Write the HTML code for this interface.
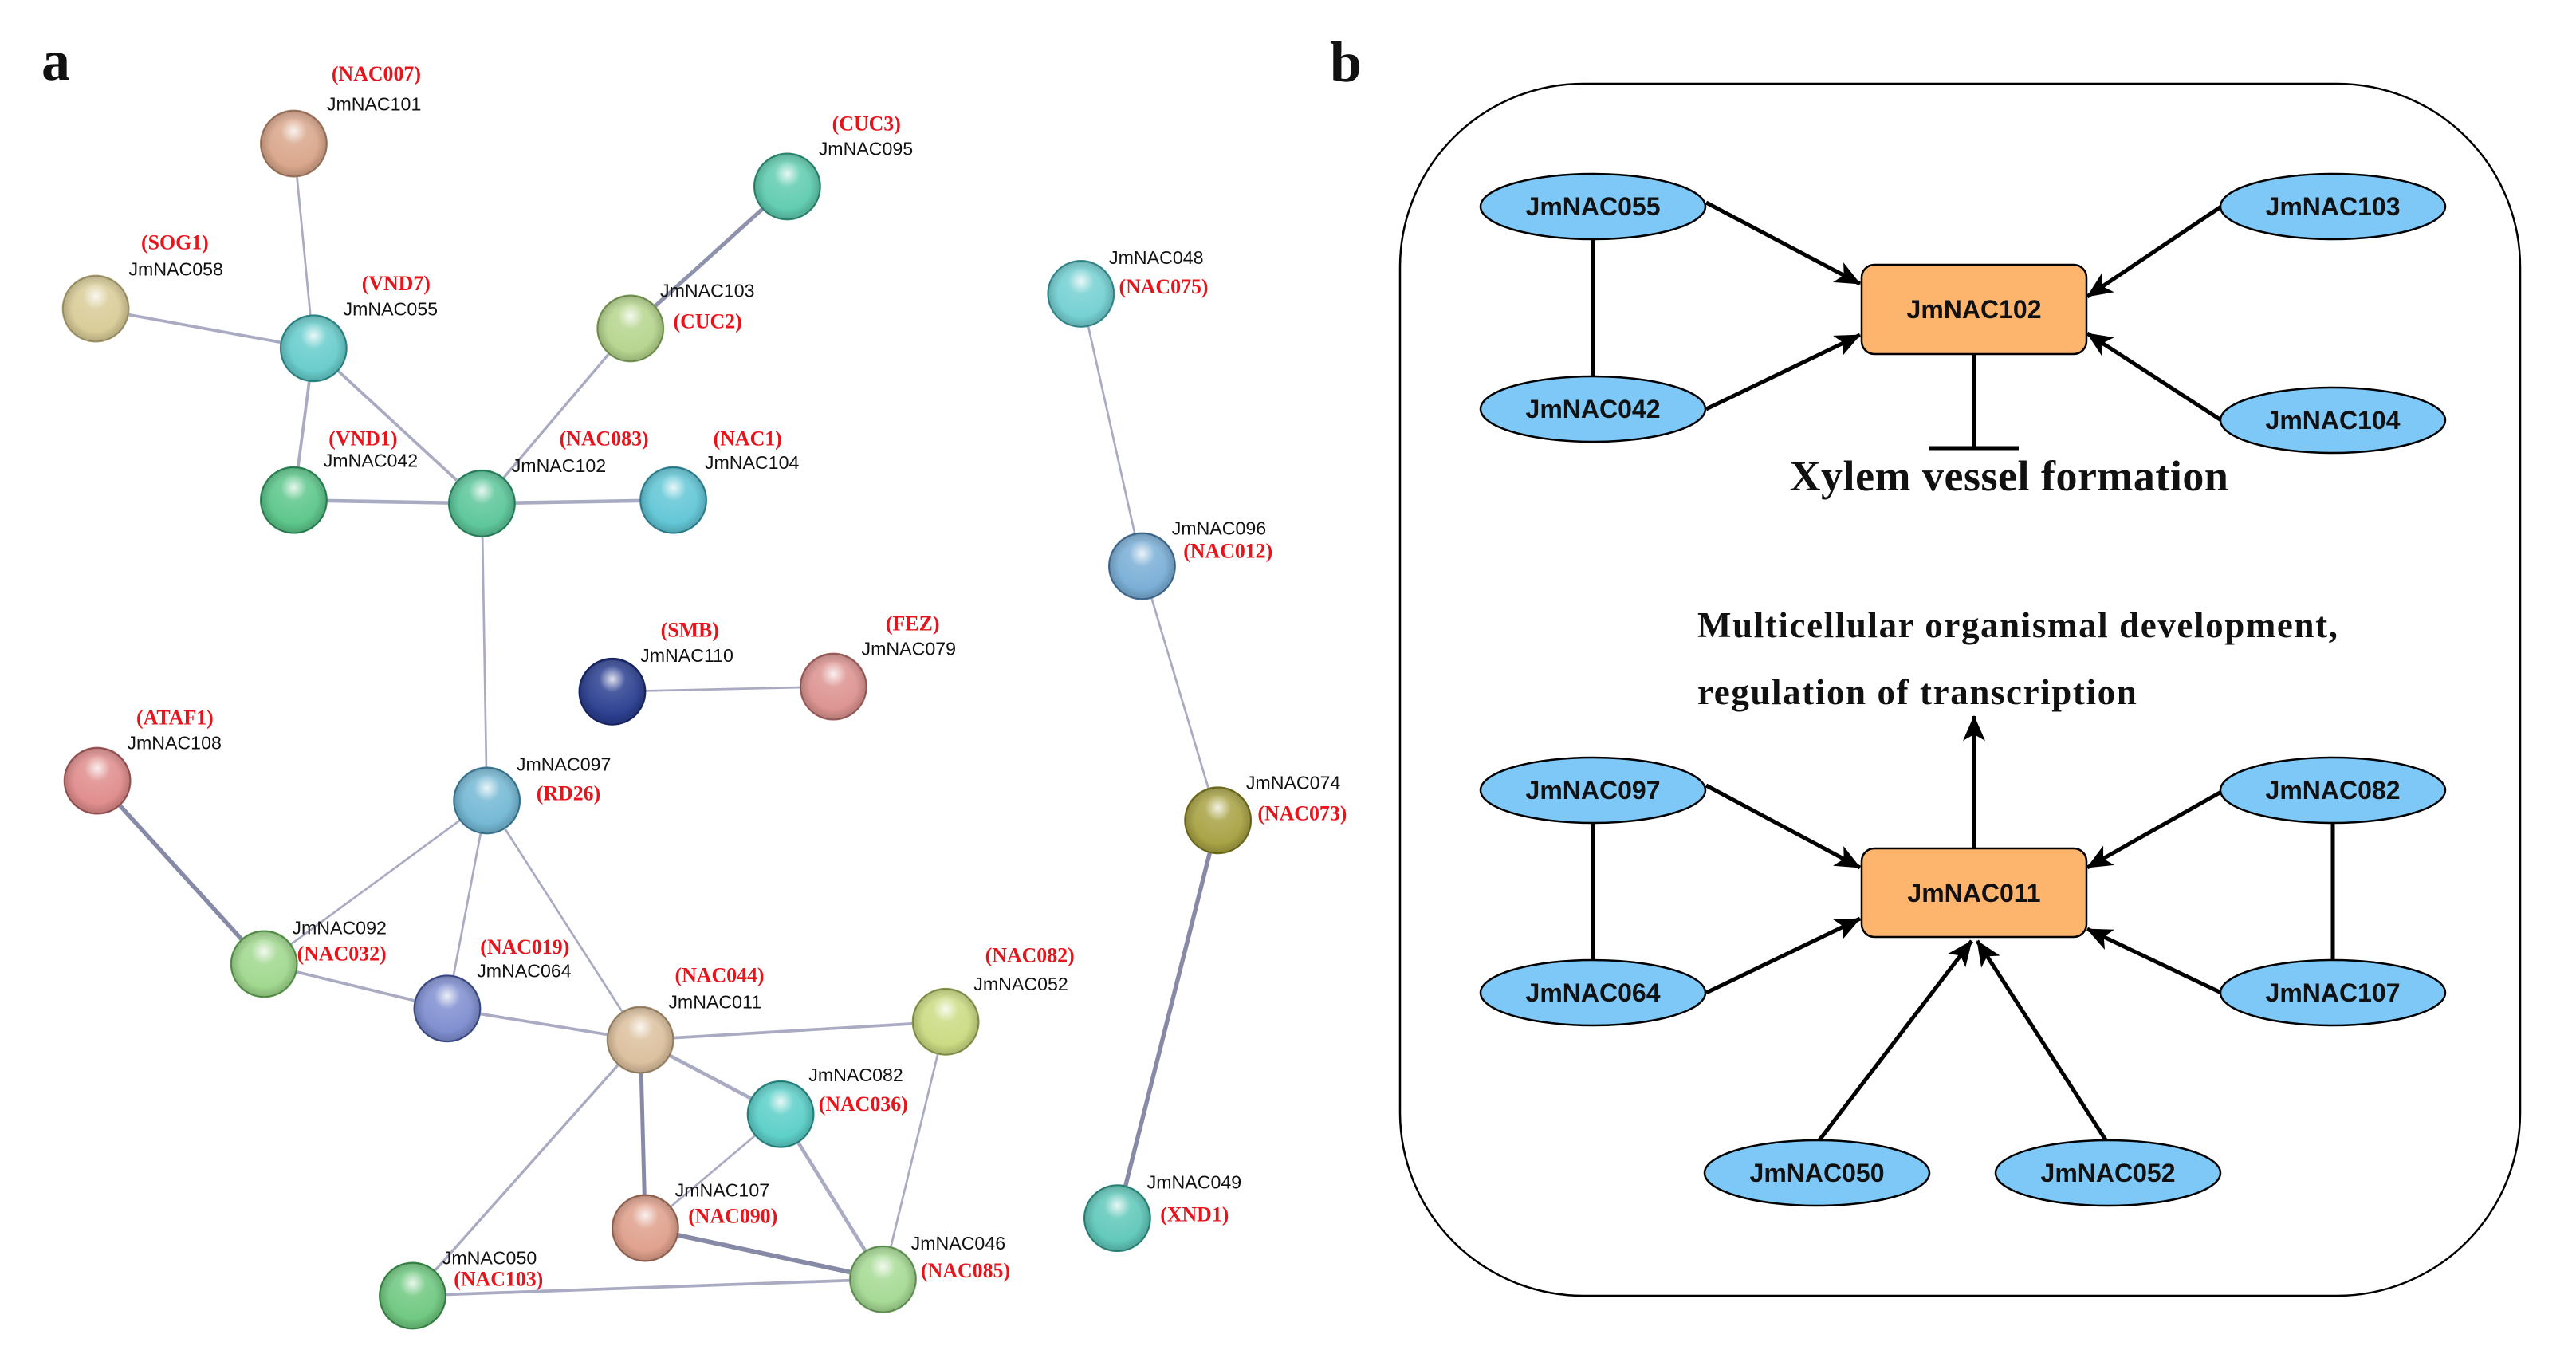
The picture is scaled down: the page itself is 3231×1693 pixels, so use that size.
<!DOCTYPE html>
<html><head><meta charset="utf-8"><style>
html,body{margin:0;padding:0;background:#fff;}
svg{display:block;}
.n{font-family:"Liberation Sans",sans-serif;font-size:11.2px;fill:#111;}
.r{font-family:"Liberation Serif",serif;font-size:12.5px;font-weight:bold;fill:#e8141c;}
.e{font-family:"Liberation Sans",sans-serif;font-size:32px;font-weight:bold;fill:#111;}
.t{font-family:"Liberation Serif",serif;font-weight:bold;fill:#111;}
</style></head><body>
<svg width="3231" height="1693" viewBox="0 0 3231 1693" xmlns="http://www.w3.org/2000/svg">
<defs>
<radialGradient id="sh" cx="0.5" cy="0.3" r="0.6"><stop offset="0" stop-color="#fff" stop-opacity="0.85"/><stop offset="0.35" stop-color="#fff" stop-opacity="0.15"/><stop offset="1" stop-color="#fff" stop-opacity="0"/></radialGradient>
<radialGradient id="dk" cx="0.5" cy="0.5" r="0.5"><stop offset="0.7" stop-color="#000" stop-opacity="0"/><stop offset="1" stop-color="#000" stop-opacity="0.18"/></radialGradient>
<marker id="ar" viewBox="0 0 32 28" refX="31" refY="14" markerWidth="32" markerHeight="28" markerUnits="userSpaceOnUse" orient="auto"><path d="M0,0 L32,14 L0,28 L8,14 Z" fill="#000"/></marker>
</defs>
<text x="52" y="100" class="t" font-size="72">a</text>
<text x="1668" y="102" class="t" font-size="72">b</text>
<g transform="scale(2.07)">
<g stroke="#a9abc2" stroke-width="1.3" fill="none">
<line x1="178" y1="87" x2="190" y2="211"/>
<line x1="58" y1="187" x2="190" y2="211" stroke-width="1.8"/>
<line x1="190" y1="211" x2="178" y2="303" stroke-width="1.8"/>
<line x1="190" y1="211" x2="292" y2="305" stroke-width="1.8"/>
<line x1="178" y1="303" x2="292" y2="305" stroke-width="2.2"/>
<line x1="292" y1="305" x2="408" y2="303" stroke-width="2.2"/>
<line x1="292" y1="305" x2="382" y2="199" stroke-width="1.6"/>
<line x1="382" y1="199" x2="477" y2="113" stroke-width="2.4" stroke="#8e92ac"/>
<line x1="292" y1="305" x2="295" y2="485"/>
<line x1="371" y1="419" x2="505" y2="416"/>
<line x1="59" y1="473" x2="160" y2="584" stroke-width="2.6" stroke="#868aa6"/>
<line x1="160" y1="584" x2="271" y2="611" stroke-width="1.8"/>
<line x1="295" y1="485" x2="160" y2="584"/>
<line x1="295" y1="485" x2="271" y2="611"/>
<line x1="295" y1="485" x2="388" y2="630"/>
<line x1="271" y1="611" x2="388" y2="630" stroke-width="1.8"/>
<line x1="388" y1="630" x2="573" y2="619" stroke-width="1.8"/>
<line x1="388" y1="630" x2="473" y2="675" stroke-width="2.2"/>
<line x1="388" y1="630" x2="391" y2="744" stroke-width="2.4" stroke="#868aa6"/>
<line x1="388" y1="630" x2="250" y2="785" stroke-width="1.6"/>
<line x1="473" y1="675" x2="391" y2="744"/>
<line x1="473" y1="675" x2="535" y2="775" stroke-width="2.2"/>
<line x1="391" y1="744" x2="535" y2="775" stroke-width="2.8" stroke="#868aa6"/>
<line x1="573" y1="619" x2="535" y2="775"/>
<line x1="250" y1="785" x2="535" y2="775" stroke-width="1.8"/>
<line x1="655" y1="178" x2="692" y2="343"/>
<line x1="692" y1="343" x2="738" y2="497"/>
<line x1="738" y1="497" x2="677" y2="738" stroke-width="2.6" stroke="#868aa6"/>
</g>
<g>
<g transform="translate(178,87)"><circle r="20" fill="#d9a68b" stroke="#a27a62"/><circle r="20" fill="url(#dk)"/><circle r="19" fill="url(#sh)"/></g>
<g transform="translate(58,187)"><circle r="20" fill="#d9cc98" stroke="#a89d70"/><circle r="20" fill="url(#dk)"/><circle r="19" fill="url(#sh)"/></g>
<g transform="translate(190,211)"><circle r="20" fill="#68cccc" stroke="#2f8c8c"/><circle r="20" fill="url(#dk)"/><circle r="19" fill="url(#sh)"/></g>
<g transform="translate(477,113)"><circle r="20" fill="#60ccb0" stroke="#2e8c74"/><circle r="20" fill="url(#dk)"/><circle r="19" fill="url(#sh)"/></g>
<g transform="translate(382,199)"><circle r="20" fill="#b6d58e" stroke="#7a9a58"/><circle r="20" fill="url(#dk)"/><circle r="19" fill="url(#sh)"/></g>
<g transform="translate(178,303)"><circle r="20" fill="#5cc68a" stroke="#2d8856"/><circle r="20" fill="url(#dk)"/><circle r="19" fill="url(#sh)"/></g>
<g transform="translate(292,305)"><circle r="20" fill="#5cc69a" stroke="#2d8862"/><circle r="20" fill="url(#dk)"/><circle r="19" fill="url(#sh)"/></g>
<g transform="translate(408,303)"><circle r="20" fill="#62c6d6" stroke="#30889a"/><circle r="20" fill="url(#dk)"/><circle r="19" fill="url(#sh)"/></g>
<g transform="translate(655,178)"><circle r="20" fill="#74d0d2" stroke="#3a9096"/><circle r="20" fill="url(#dk)"/><circle r="19" fill="url(#sh)"/></g>
<g transform="translate(692,343)"><circle r="20" fill="#7aaed6" stroke="#466f96"/><circle r="20" fill="url(#dk)"/><circle r="19" fill="url(#sh)"/></g>
<g transform="translate(371,419)"><circle r="20" fill="#2b3f90" stroke="#1a2766"/><circle r="20" fill="url(#dk)"/><circle r="19" fill="url(#sh)"/></g>
<g transform="translate(505,416)"><circle r="20" fill="#dc9390" stroke="#a06260"/><circle r="20" fill="url(#dk)"/><circle r="19" fill="url(#sh)"/></g>
<g transform="translate(59,473)"><circle r="20" fill="#e08c8c" stroke="#a05858"/><circle r="20" fill="url(#dk)"/><circle r="19" fill="url(#sh)"/></g>
<g transform="translate(295,485)"><circle r="20" fill="#74b8d4" stroke="#3e7c98"/><circle r="20" fill="url(#dk)"/><circle r="19" fill="url(#sh)"/></g>
<g transform="translate(738,497)"><circle r="20" fill="#a8a244" stroke="#727020"/><circle r="20" fill="url(#dk)"/><circle r="19" fill="url(#sh)"/></g>
<g transform="translate(160,584)"><circle r="20" fill="#a0d88e" stroke="#5a9a4c"/><circle r="20" fill="url(#dk)"/><circle r="19" fill="url(#sh)"/></g>
<g transform="translate(271,611)"><circle r="20" fill="#7f8ed0" stroke="#3d4f8e"/><circle r="20" fill="url(#dk)"/><circle r="19" fill="url(#sh)"/></g>
<g transform="translate(388,630)"><circle r="20" fill="#dcc09e" stroke="#a08a6c"/><circle r="20" fill="url(#dk)"/><circle r="19" fill="url(#sh)"/></g>
<g transform="translate(573,619)"><circle r="20" fill="#cadb82" stroke="#8a9a52"/><circle r="20" fill="url(#dk)"/><circle r="19" fill="url(#sh)"/></g>
<g transform="translate(473,675)"><circle r="20" fill="#5ccfc8" stroke="#2a8a86"/><circle r="20" fill="url(#dk)"/><circle r="19" fill="url(#sh)"/></g>
<g transform="translate(391,744)"><circle r="20" fill="#dfa08c" stroke="#9a6a56"/><circle r="20" fill="url(#dk)"/><circle r="19" fill="url(#sh)"/></g>
<g transform="translate(250,785)"><circle r="20" fill="#6fc880" stroke="#3a8a48"/><circle r="20" fill="url(#dk)"/><circle r="19" fill="url(#sh)"/></g>
<g transform="translate(535,775)"><circle r="20" fill="#a6da94" stroke="#6a9c5a"/><circle r="20" fill="url(#dk)"/><circle r="19" fill="url(#sh)"/></g>
<g transform="translate(677,738)"><circle r="20" fill="#60c8ba" stroke="#2e8c80"/><circle r="20" fill="url(#dk)"/><circle r="19" fill="url(#sh)"/></g>
</g>
<g dominant-baseline="middle">
<text class="r" x="228" y="46" text-anchor="middle">(NAC007)</text><text class="n" x="198" y="64">JmNAC101</text>
<text class="r" x="106" y="148" text-anchor="middle">(SOG1)</text><text class="n" x="78" y="164">JmNAC058</text>
<text class="r" x="240" y="173" text-anchor="middle">(VND7)</text><text class="n" x="208" y="188">JmNAC055</text>
<text class="r" x="525" y="76" text-anchor="middle">(CUC3)</text><text class="n" x="496" y="91">JmNAC095</text>
<text class="n" x="400" y="177">JmNAC103</text><text class="r" x="408" y="196">(CUC2)</text>
<text class="r" x="220" y="267" text-anchor="middle">(VND1)</text><text class="n" x="196" y="280">JmNAC042</text>
<text class="r" x="366" y="267" text-anchor="middle">(NAC083)</text><text class="n" x="310" y="283">JmNAC102</text>
<text class="r" x="453" y="267" text-anchor="middle">(NAC1)</text><text class="n" x="427" y="281">JmNAC104</text>
<text class="n" x="672" y="157">JmNAC048</text><text class="r" x="678" y="175">(NAC075)</text>
<text class="n" x="710" y="321">JmNAC096</text><text class="r" x="717" y="335">(NAC012)</text>
<text class="r" x="418" y="383" text-anchor="middle">(SMB)</text><text class="n" x="388" y="398">JmNAC110</text>
<text class="r" x="553" y="379" text-anchor="middle">(FEZ)</text><text class="n" x="522" y="394">JmNAC079</text>
<text class="r" x="106" y="436" text-anchor="middle">(ATAF1)</text><text class="n" x="77" y="451">JmNAC108</text>
<text class="n" x="313" y="464">JmNAC097</text><text class="r" x="325" y="482">(RD26)</text>
<text class="n" x="755" y="475">JmNAC074</text><text class="r" x="762" y="494">(NAC073)</text>
<text class="n" x="177" y="563">JmNAC092</text><text class="r" x="180" y="579">(NAC032)</text>
<text class="r" x="318" y="575" text-anchor="middle">(NAC019)</text><text class="n" x="289" y="589">JmNAC064</text>
<text class="r" x="436" y="592" text-anchor="middle">(NAC044)</text><text class="n" x="405" y="608">JmNAC011</text>
<text class="r" x="624" y="580" text-anchor="middle">(NAC082)</text><text class="n" x="590" y="597">JmNAC052</text>
<text class="n" x="490" y="652">JmNAC082</text><text class="r" x="496" y="670">(NAC036)</text>
<text class="n" x="409" y="722">JmNAC107</text><text class="r" x="417" y="738">(NAC090)</text>
<text class="n" x="268" y="763">JmNAC050</text><text class="r" x="275" y="776">(NAC103)</text>
<text class="n" x="552" y="754">JmNAC046</text><text class="r" x="558" y="771">(NAC085)</text>
<text class="n" x="695" y="717">JmNAC049</text><text class="r" x="703" y="737">(XND1)</text>
</g>
</g>
<!-- panel b -->
<rect x="1756" y="105" width="1405" height="1520" rx="230" ry="230" fill="none" stroke="#000" stroke-width="2.5"/>
<g stroke="#000" stroke-width="5" fill="none">
<line x1="1998" y1="300" x2="1998" y2="472"/>
<line x1="1998" y1="1032" x2="1998" y2="1204"/>
<line x1="2926" y1="1032" x2="2926" y2="1204"/>
<line x1="2140" y1="254" x2="2333" y2="356" marker-end="url(#ar)"/>
<line x1="2140" y1="513" x2="2333" y2="420" marker-end="url(#ar)"/>
<line x1="2786" y1="259" x2="2618" y2="372" marker-end="url(#ar)"/>
<line x1="2786" y1="527" x2="2618" y2="418" marker-end="url(#ar)"/>
<line x1="2476" y1="444" x2="2476" y2="562"/>
<line x1="2420" y1="562" x2="2532" y2="562"/>
<line x1="2476" y1="1064" x2="2476" y2="898" marker-end="url(#ar)"/>
<line x1="2140" y1="985" x2="2333" y2="1088" marker-end="url(#ar)"/>
<line x1="2140" y1="1245" x2="2333" y2="1152" marker-end="url(#ar)"/>
<line x1="2786" y1="993" x2="2618" y2="1088" marker-end="url(#ar)"/>
<line x1="2786" y1="1245" x2="2618" y2="1165" marker-end="url(#ar)"/>
<line x1="2281" y1="1431" x2="2473" y2="1180" marker-end="url(#ar)"/>
<line x1="2642" y1="1431" x2="2480" y2="1180" marker-end="url(#ar)"/>
</g>
<g fill="#7ec8f8" stroke="#000" stroke-width="2.5">
<ellipse cx="1998" cy="259" rx="141" ry="41"/>
<ellipse cx="1998" cy="513" rx="141" ry="41"/>
<ellipse cx="2926" cy="259" rx="141" ry="41"/>
<ellipse cx="2926" cy="527" rx="141" ry="41"/>
<ellipse cx="1998" cy="991" rx="141" ry="41"/>
<ellipse cx="1998" cy="1245" rx="141" ry="41"/>
<ellipse cx="2926" cy="991" rx="141" ry="41"/>
<ellipse cx="2926" cy="1245" rx="141" ry="41"/>
<ellipse cx="2279" cy="1471" rx="141" ry="41"/>
<ellipse cx="2644" cy="1471" rx="141" ry="41"/>
</g>
<g fill="#fdb46c" stroke="#000" stroke-width="2.5">
<rect x="2335" y="332" width="282" height="112" rx="16"/>
<rect x="2335" y="1064" width="282" height="111" rx="16"/>
</g>
<g text-anchor="middle">
<text class="e" x="1998" y="270">JmNAC055</text>
<text class="e" x="1998" y="524">JmNAC042</text>
<text class="e" x="2926" y="270">JmNAC103</text>
<text class="e" x="2926" y="538">JmNAC104</text>
<text class="e" x="1998" y="1002">JmNAC097</text>
<text class="e" x="1998" y="1256">JmNAC064</text>
<text class="e" x="2926" y="1002">JmNAC082</text>
<text class="e" x="2926" y="1256">JmNAC107</text>
<text class="e" x="2279" y="1482">JmNAC050</text>
<text class="e" x="2644" y="1482">JmNAC052</text>
<text class="e" x="2476" y="399">JmNAC102</text>
<text class="e" x="2476" y="1131">JmNAC011</text>
<text class="t" x="2520" y="615" font-size="54" letter-spacing="0.5">Xylem vessel formation</text>
</g>
<text class="t" x="2129" y="799" font-size="45" letter-spacing="1.6">Multicellular organismal development,</text>
<text class="t" x="2129" y="883" font-size="45" letter-spacing="1.6">regulation of transcription</text>
</svg>
</body></html>
